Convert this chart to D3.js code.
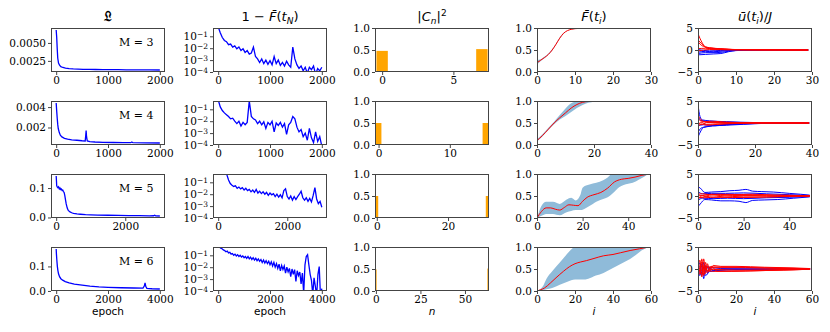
<!DOCTYPE html>
<html>
<head>
<meta charset="utf-8">
<script src="https://cdn.jsdelivr.net/npm/d3@7"></script>
<style>
  body { margin: 0; background: #fff; }
  .tick line { stroke: #444; }
  .title { font-family: "DejaVu Sans", sans-serif; font-size: 13px; }
</style>
</head>
<body>
<div id="chart"></div>
<script>
// Section 1: data
// ======================================================

var Ms = [3, 4, 5, 6];
var epochMax = [2000, 2000, 3000, 4000];
var epochTicks = [[0, 1000, 2000], [0, 1000, 2000], [0, 2000], [0, 2000, 4000]];
var lossTicks = [[0.0025, 0.005], [0.002, 0.004], [0, 0.1], [0, 0.1]];
var lossTickLabels = [["0.0025", "0.0050"], ["0.002", "0.004"], ["0.0", "0.1"], ["0.0", "0.1"]];

// cost vs epoch, [epoch, value]
var lossM3 = [[0, 0.0068], [10, 0.0058], [20, 0.0042], [30, 0.0029], [45, 0.0022], [65, 0.0019],
  [90, 0.0017], [130, 0.00158], [180, 0.00148], [250, 0.00142], [330, 0.00138], [420, 0.00135],
  [520, 0.00133], [640, 0.00131], [760, 0.0013], [900, 0.00129], [1050, 0.00128], [1200, 0.00127],
  [1350, 0.00126], [1500, 0.00125], [1650, 0.00125], [1800, 0.00124], [2000, 0.00123]];
var lossM4 = [[0, 0.0044], [10, 0.0036], [20, 0.0029], [30, 0.0023], [40, 0.0019], [60, 0.0015],
  [80, 0.00125], [110, 0.00108], [160, 0.00094], [220, 0.00085], [300, 0.00079], [400, 0.00075],
  [500, 0.0007], [560, 0.00068], [570, 0.0012], [578, 0.0017], [586, 0.0011], [600, 0.00068],
  [650, 0.00062], [750, 0.00058], [900, 0.00055], [1100, 0.00053], [1300, 0.00052], [1440, 0.00051],
  [1460, 0.00058], [1480, 0.00051], [1700, 0.0005], [2000, 0.00048]];
var lossM5 = [[0, 0.141], [8, 0.125], [15, 0.108], [30, 0.104], [50, 0.101], [70, 0.104], [90, 0.097],
  [110, 0.1], [130, 0.095], [150, 0.097], [170, 0.092], [190, 0.093], [210, 0.088], [230, 0.085],
  [250, 0.074], [270, 0.06], [290, 0.046], [320, 0.032], [350, 0.024], [400, 0.019], [450, 0.016],
  [500, 0.014], [600, 0.012], [700, 0.011], [850, 0.0095], [1000, 0.0088], [1200, 0.0082],
  [1500, 0.0075], [1800, 0.007], [2100, 0.0065], [2400, 0.006], [2700, 0.0055], [2820, 0.0058],
  [2850, 0.0075], [2880, 0.0055], [3000, 0.005]];
var lossM6 = [[0, 0.171], [10, 0.15], [25, 0.126], [45, 0.1], [65, 0.084], [90, 0.07], [130, 0.058],
  [180, 0.05], [250, 0.044], [350, 0.038], [500, 0.033], [700, 0.028], [1000, 0.024], [1300, 0.02],
  [1650, 0.017], [2000, 0.015], [2500, 0.013], [3000, 0.012], [3350, 0.0115], [3400, 0.02],
  [3430, 0.033], [3460, 0.018], [3500, 0.0105], [3700, 0.009], [4000, 0.008]];
var lossCurves = [lossM3, lossM4, lossM5, lossM6];

// log10 of 1 - F(t_N), one value every infidStep epochs
var infidStep = [40, 40, 50, 50];
var infidExpM3 = [-0.2, -0.7, -1.1, -1.35, -1.45, -1.7, -1.65, -1.9, -1.8, -2.05,
  -1.9, -2.2, -2.05, -2.35, -2.2, -2.5, -2.4, -1.9, -2.7, -2.9,
  -3.2, -2.9, -3.3, -3.0, -3.35, -3.05, -3.4, -2.7, -3.3, -3.0,
  -3.45, -3.2, -3.5, -3.1, -3.4, -3.6, -1.9, -2.9, -3.4, -3.7,
  -3.5, -3.9, -3.6, -4.1, -3.6, -3.8, -3.5, -4.2, -3.7, -3.9, -3.6];
var infidExpM4 = [-0.2, -0.8, -1.1, -1.3, -1.45, -1.6, -1.8, -1.75, -2.0, -2.2,
  -2.0, -2.4, -2.1, -2.3, -2.1, -0.3, -1.6, -1.8, -1.9, -2.2,
  -2.0, -2.3, -2.05, -2.6, -2.1, -2.3, -2.0, -2.9, -2.15, -2.35,
  -2.1, -2.5, -2.2, -3.1, -2.3, -2.1, -1.6, -1.8, -2.5, -2.9,
  -2.7, -3.3, -3.0, -3.6, -2.6, -3.4, -3.8, -2.9, -3.7, -3.3, -4.1];
var infidExpM5 = [-0.1, -0.1, -0.15, -0.2, -0.25, -0.35, -0.8, -1.1, -1.25, -1.35,
  -1.3, -1.5, -1.4, -1.55, -1.45, -1.65, -1.5, -1.7, -1.6, -1.8,
  -1.65, -1.85, -1.6, -1.9, -1.75, -1.95, -1.8, -2.0, -1.85, -2.1,
  -1.9, -2.05, -1.95, -2.2, -2.0, -2.25, -2.05, -2.3, -1.7, -1.55,
  -2.2, -2.4, -2.15, -2.5, -2.2, -2.45, -2.2, -2.0, -1.75, -2.3,
  -2.5, -2.3, -2.6, -2.35, -2.65, -2.1, -1.45, -2.4, -2.8, -2.6, -3.1];
var infidExpM6 = [-0.2, -0.3, -0.4, -0.45, -0.55, -0.6, -0.7, -0.65, -0.8, -0.75,
  -0.9, -0.85, -1.0, -0.9, -1.05, -0.95, -1.1, -1.0, -1.15, -1.05,
  -1.2, -1.1, -1.25, -1.1, -1.3, -1.15, -1.35, -1.2, -1.4, -1.25,
  -1.45, -1.3, -1.5, -1.35, -1.6, -1.4, -1.65, -1.45, -1.7, -1.5,
  -1.8, -1.55, -1.9, -1.6, -2.0, -1.7, -2.1, -1.75, -2.3, -1.85,
  -2.2, -1.9, -2.5, -2.0, -2.4, -2.1, -2.8, -2.15, -2.6, -2.2,
  -3.2, -2.3, -2.7, -2.4, -3.4, -2.5, -4.2, -1.8, -1.1, -0.95,
  -1.8, -2.6, -3.1, -4.3, -2.9, -3.6, -4.4, -2.6, -1.95, -4.5, -3.8];
var infidCurves = [infidExpM3, infidExpM4, infidExpM5, infidExpM6];
var infidTicks = [1e-1, 1e-2, 1e-3, 1e-4];

// |C_n|^2, [n, value]
var popN = [8, 16, 32, 64];
var popBars = [[[0, 0.48], [7, 0.52]], [[0, 0.5], [15, 0.5]], [[0, 0.5], [31, 0.5]], [[0, 0.49], [63, 0.51]]];
var popTicks = [[0, 5], [0, 10], [0, 20], [0, 25, 50]];

// mean fidelity and band, time steps
var timeMax = [30, 40, 50, 60];
var timeTicks = [[0, 10, 20, 30], [0, 20, 40], [0, 20, 40], [0, 20, 40, 60]];
var fidMean = [
  [[0, 0.21], [1, 0.27], [2, 0.33], [3, 0.4], [4, 0.5], [5, 0.63], [6, 0.77], [7, 0.88], [8, 0.94],
   [9, 0.97], [10, 0.985], [13, 0.996], [18, 1.0], [29, 1.0]],
  [[0, 0.1], [2, 0.22], [4, 0.36], [6, 0.5], [8, 0.62], [10, 0.73], [12, 0.84], [14, 0.92], [16, 0.97],
   [18, 0.99], [21, 1.0], [39, 1.0]],
  [[0, 0], [2, 0.15], [4, 0.23], [6, 0.23], [8, 0.2], [10, 0.18], [12, 0.24], [14, 0.3], [16, 0.29],
   [18, 0.28], [20, 0.38], [22, 0.47], [25, 0.53], [28, 0.58], [31, 0.68], [34, 0.82], [37, 0.88],
   [40, 0.9], [43, 0.93], [46, 0.97], [49, 1.0]],
  [[0, 0], [2, 0.03], [4, 0.07], [7, 0.18], [10, 0.3], [14, 0.45], [17, 0.55], [20, 0.62], [23, 0.66],
   [26, 0.69], [30, 0.74], [35, 0.8], [40, 0.83], [44, 0.87], [49, 0.92], [54, 0.96], [59, 1.0]]
];
// [t, low, high]
var fidBand = [
  [[0, 0.17, 0.27], [1, 0.25, 0.29], [2, 0.31, 0.35], [3, 0.39, 0.42], [4, 0.49, 0.52], [5, 0.62, 0.65],
   [6, 0.76, 0.79], [7, 0.87, 0.89], [8, 0.935, 0.945], [10, 0.98, 0.99], [13, 0.995, 0.999], [29, 1, 1]],
  [[0, 0.08, 0.13], [2, 0.2, 0.25], [4, 0.34, 0.39], [6, 0.47, 0.53], [8, 0.58, 0.68], [10, 0.66, 0.83],
   [12, 0.75, 0.95], [14, 0.84, 0.99], [16, 0.91, 1.0], [18, 0.96, 1.0], [21, 0.99, 1.0], [25, 1, 1], [39, 1, 1]],
  [[0, 0, 0], [2, 0.05, 0.28], [4, 0.09, 0.37], [7, 0.09, 0.37], [10, 0.06, 0.32], [13, 0.13, 0.42],
   [15, 0.16, 0.46], [17, 0.18, 0.4], [19, 0.18, 0.52], [20, 0.19, 0.69], [23, 0.27, 0.76], [26, 0.37, 0.8],
   [29, 0.43, 0.86], [31, 0.47, 0.92], [33, 0.55, 1.02], [36, 0.7, 1.08], [40, 0.78, 1.1], [42, 0.8, 1.08],
   [45, 0.88, 1.05], [47, 0.94, 1.02], [49, 1, 1]],
  [[0, 0, 0], [3, 0.02, 0.1], [5, 0.04, 0.28], [8, 0.07, 0.45], [12, 0.14, 0.65], [16, 0.21, 0.85],
   [20, 0.26, 1.02], [24, 0.26, 1.1], [27, 0.28, 1.1], [31, 0.35, 1.1], [35, 0.41, 1.1], [39, 0.5, 1.1],
   [42, 0.57, 1.1], [46, 0.66, 1.1], [49, 0.73, 1.08], [52, 0.82, 1.05], [55, 0.92, 1.02], [59, 1, 1]]
];

// control fields u/J, [t, value]
var ctrlBlue = [
  [[[0, -1.1], [2, -1.0], [4, -0.9], [6, -0.8], [8, -0.4], [10, -0.1], [14, 0], [29, 0]],
   [[0, -0.8], [2, -0.6], [5, -0.6], [8, -0.3], [12, -0.05], [29, 0]],
   [[0, -0.5], [2, -0.3], [4, -0.4], [7, -0.2], [11, 0], [29, 0]],
   [[0, 0.1], [3, -0.2], [6, -0.1], [10, 0], [29, 0]]],
  [[[0, 4.2], [0.7, 1.5], [1.5, 0.7], [4, 0.5], [10, 0.3], [20, 0.1], [39, 0]],
   [[0, -3.2], [1, -1.8], [2, -1.0], [5, -0.7], [10, -0.5], [16, -0.3], [24, -0.05], [39, 0]],
   [[0, -2.2], [1, -1.2], [3, -0.8], [8, -0.4], [15, -0.2], [39, 0]],
   [[0, 1.5], [1, 0.6], [4, 0.3], [12, 0.15], [20, 0.05], [39, 0]],
   [[0, -0.6], [2, -0.4], [6, -0.6], [12, -0.3], [20, -0.1], [39, 0]]],
  [[[0, 2.1], [1, 1.8], [3, 0.8], [6, 0.9], [10, 1.0], [14, 1.2], [18, 1.3], [21, 1.5], [24, 1.1],
    [28, 1.0], [33, 0.9], [40, 0.6], [45, 0.4], [49, 0.2]],
   [[0, -2.4], [1, -1.8], [3, -0.8], [6, -0.9], [10, -1.1], [14, -1.1], [18, -1.2], [21, -1.5],
    [24, -1.0], [29, -0.9], [35, -0.8], [42, -0.5], [49, -0.2]],
   [[0, 1.0], [2, 0.5], [6, 0.6], [12, 0.6], [20, 0.7], [30, 0.5], [40, 0.3], [49, 0.1]],
   [[0, -1.0], [2, -0.5], [7, -0.6], [13, -0.5], [20, -0.6], [30, -0.4], [40, -0.3], [49, -0.1]]],
  [[[0, 0], [1, -1.5], [2, 1.2], [3, -2.2], [4, 0.8], [5, -1.0], [6, 0.3], [8, -0.4], [12, -0.2], [20, -0.1], [59, 0]],
   [[0, 0.5], [1, 1.4], [2, -1.0], [3, 1.5], [4, -0.6], [5, 0.7], [7, -0.5], [10, -0.3], [20, -0.1], [59, 0]],
   [[0, -0.3], [1, -0.8], [2, -1.3], [3, 0.4], [4, -1.5], [6, -0.6], [9, -0.4], [15, -0.2], [59, 0]],
   [[0, 0.3], [2, 0.6], [4, 0.2], [7, 0.3], [12, 0.1], [59, 0]]]
];
var ctrlRed = [
  [[[0, 3.7], [1, 1.8], [2, 0.6], [3, 0.3], [5, 0.15], [10, 0.05], [29, 0]],
   [[0, 2.3], [1, 1.4], [2, 0.7], [4, 0.4], [7, 0.2], [12, 0.05], [29, 0]],
   [[0, 1.9], [1, 1.0], [3, 0.5], [6, 0.3], [10, 0.1], [29, 0]],
   [[0, 0.3], [2, 0.4], [5, 0.3], [9, 0.1], [29, 0]],
   [[0, -0.2], [3, 0.1], [8, 0.05], [29, 0]]],
  [[[0, 0.9], [1, 0.5], [2, 0.3], [5, 0.4], [10, 0.2], [20, 0.05], [39, 0]],
   [[0, -0.5], [1, 0.2], [3, -0.3], [6, -0.2], [12, -0.1], [20, 0], [39, 0]],
   [[0, 0.3], [1, -0.4], [3, 0.1], [8, 0.15], [15, 0.05], [39, 0]],
   [[0, -1.0], [1, -0.2], [3, -0.5], [7, -0.3], [14, -0.1], [22, 0], [39, 0]],
   [[0, 1.8], [1, 0.8], [3, 0.2], [8, 0.1], [39, 0]]],
  [[[0, -0.5], [2, -0.3], [5, 0.2], [10, 0.4], [20, 0.3], [30, 0.2], [40, 0.15], [49, 0.05]],
   [[0, 0.4], [2, 0.5], [5, 0.3], [10, 0.1], [20, -0.2], [30, -0.2], [40, -0.1], [49, 0]],
   [[0, -0.3], [3, -0.4], [8, -0.2], [15, 0.1], [25, 0.1], [35, 0], [49, 0]],
   [[0, 0.2], [3, 0], [7, -0.3], [15, -0.35], [25, -0.3], [35, -0.15], [49, -0.05]],
   [[0, -0.6], [2, 0.1], [6, 0.4], [14, 0.3], [24, 0.4], [34, 0.2], [49, 0.1]]],
  [[[0, 0], [1, 2.0], [2, -1.8], [3, 2.3], [4, -1.0], [5, 1.2], [6, -0.5], [8, 0.8], [12, 0.6], [20, 0.6],
    [35, 0.4], [50, 0.25], [59, 0.1]],
   [[0, 0.5], [1, -1.2], [2, 2.3], [3, -1.3], [4, 1.5], [5, -0.8], [7, 0.6], [10, -0.5], [20, -0.5],
    [35, -0.35], [50, -0.2], [59, -0.05]],
   [[0, -0.5], [1, 1.0], [2, 0.5], [3, -1.5], [4, 0.6], [6, 0.2], [9, 0.3], [20, 0.3], [40, 0.15], [59, 0]],
   [[0, 0.2], [1, -0.5], [2, -1.2], [3, 0.8], [5, -0.3], [8, -0.1], [20, -0.25], [40, -0.15], [59, 0]],
   [[0, -0.8], [1, 0.4], [2, 1.6], [3, -0.6], [4, 0.2], [6, 0.5], [10, 0.45], [25, 0.35], [45, 0.2], [59, 0.05]],
   [[0, 0.9], [1, -0.6], [3, 0.2], [5, -0.4], [10, -0.55], [25, -0.45], [45, -0.25], [59, -0.05]]]
];

// Section 2: canvas and layout
// ======================================================

var width = 830;
var height = 332;
var colX = [51, 213, 375, 537, 698];
var rowY = [28, 101, 174, 247];
var pw = 114;
var ph = 44;
var frameColor = "#444";
var tickFont = "DejaVu Serif";

var svg = d3.select("#chart")
  .append("svg")
  .attr("width", width)
  .attr("height", height);

function makePanel(r, c) {
  var g = svg.append("g")
    .attr("transform", "translate(" + colX[c] + "," + rowY[r] + ")");
  svg.append("clipPath")
    .attr("id", "clip-" + r + "-" + c)
    .append("rect")
    .attr("width", pw)
    .attr("height", ph);
  var plot = g.append("g").attr("clip-path", "url(#clip-" + r + "-" + c + ")");
  return { g: g, plot: plot };
}

function drawAxes(p, x, y, xTicks, yTicks, xFmt, yFmt) {
  var xa = p.g.append("g")
    .attr("transform", "translate(0," + ph + ")")
    .call(d3.axisBottom(x).tickValues(xTicks).tickFormat(xFmt).tickSize(3).tickPadding(2));
  var ya = p.g.append("g")
    .call(d3.axisLeft(y).tickValues(yTicks).tickFormat(yFmt).tickSize(3).tickPadding(2));
  [xa, ya].forEach(function(a) {
    a.select(".domain").remove();
    a.attr("font-family", tickFont).attr("font-size", 10.5);
    a.selectAll(".tick text").attr("fill", "#000");
  });
  p.g.append("rect")
    .attr("x", 0.5).attr("y", 0.5)
    .attr("width", pw - 1).attr("height", ph - 1)
    .attr("fill", "none")
    .attr("stroke", frameColor)
    .attr("stroke-width", 1);
  return { xa: xa, ya: ya };
}

function minusFmt(d) {
  return d < 0 ? "\u2212" + Math.abs(d) : String(d);
}

function padExtent(lo, hi) {
  var pad = (hi - lo) * 0.05;
  return [lo - pad, hi + pad];
}

// Section 3: the four rows
// ======================================================

for (var r = 0; r < 4; r++) {

  // column 1: cost
  var p1 = makePanel(r, 0);
  var lx = d3.scaleLinear().domain(padExtent(0, epochMax[r])).range([0, pw]);
  var lExt = d3.extent(lossCurves[r], function(d) { return d[1]; });
  var ly = d3.scaleLinear().domain(padExtent(lExt[0], lExt[1])).range([ph, 0]);
  p1.plot.append("path")
    .datum(lossCurves[r])
    .attr("fill", "none")
    .attr("stroke", "#0000ff")
    .attr("stroke-width", 1.3)
    .attr("d", d3.line().x(function(d) { return lx(d[0]); }).y(function(d) { return ly(d[1]); }));
  var labs = lossTickLabels[r];
  drawAxes(p1, lx, ly, epochTicks[r], lossTicks[r], d3.format("d"), function(d, i) { return labs[i]; });
  p1.g.append("text")
    .attr("x", 68).attr("y", 18)
    .attr("font-family", tickFont)
    .attr("font-size", 11)
    .text("M = " + Ms[r]);

  // column 2: infidelity, log scale
  var p2 = makePanel(r, 1);
  var ix = d3.scaleLinear().domain(padExtent(0, epochMax[r])).range([0, pw]);
  var iy = d3.scaleLog().domain([1e-4, 0.5]).range([ph, 0]);
  var step = infidStep[r];
  p2.plot.append("path")
    .datum(infidCurves[r])
    .attr("fill", "none")
    .attr("stroke", "#0000ff")
    .attr("stroke-width", 1.3)
    .attr("d", d3.line()
      .x(function(d, i) { return ix(i * step); })
      .y(function(d) { return iy(Math.pow(10, d)); }));
  var ax2 = drawAxes(p2, ix, iy, epochTicks[r], infidTicks, d3.format("d"), function() { return ""; });
  ax2.ya.selectAll(".tick text").each(function(d) {
    var t = d3.select(this);
    t.append("tspan").text("10");
    t.append("tspan")
      .attr("dy", "-0.45em")
      .attr("font-size", 7.5)
      .text("\u2212" + Math.round(-Math.log10(d)));
  });

  // column 3: |C_n|^2 bars
  var p3 = makePanel(r, 2);
  var bx = d3.scaleLinear().domain([-0.5, popN[r] - 0.5]).range([0, pw]);
  var by = d3.scaleLinear().domain([0, 1]).range([ph, 0]);
  p3.plot.selectAll("rect")
    .data(popBars[r])
    .enter()
    .append("rect")
    .attr("x", function(d) { return bx(d[0] - 0.4); })
    .attr("width", function(d) { return bx(d[0] + 0.4) - bx(d[0] - 0.4); })
    .attr("y", function(d) { return by(d[1]); })
    .attr("height", function(d) { return by(0) - by(d[1]); })
    .attr("fill", "#ffa500");
  drawAxes(p3, bx, by, popTicks[r], [0, 0.5, 1], d3.format("d"), d3.format(".1f"));

  // column 4: mean fidelity with spread
  var p4 = makePanel(r, 3);
  var fx = d3.scaleLinear().domain([0, timeMax[r]]).range([0, pw]);
  var fy = d3.scaleLinear().domain([0, 1]).range([ph, 0]);
  p4.plot.append("path")
    .datum(fidBand[r])
    .attr("fill", "#8fbbd9")
    .attr("d", d3.area()
      .curve(d3.curveMonotoneX)
      .x(function(d) { return fx(d[0]); })
      .y0(function(d) { return fy(d[1]); })
      .y1(function(d) { return fy(d[2]); }));
  p4.plot.append("path")
    .datum(fidMean[r])
    .attr("fill", "none")
    .attr("stroke", "#ff0000")
    .attr("stroke-width", 1)
    .attr("d", d3.line()
      .curve(d3.curveMonotoneX)
      .x(function(d) { return fx(d[0]); })
      .y(function(d) { return fy(d[1]); }));
  drawAxes(p4, fx, fy, timeTicks[r], [0, 0.5, 1], d3.format("d"), d3.format(".1f"));

  // column 5: control fields
  var p5 = makePanel(r, 4);
  var ux = d3.scaleLinear().domain([0, timeMax[r]]).range([0, pw]);
  var uy = d3.scaleLinear().domain([-5, 5]).range([ph, 0]);
  var uLine = d3.line()
    .curve(d3.curveMonotoneX)
    .x(function(d) { return ux(d[0]); })
    .y(function(d) { return uy(d[1]); });
  p5.plot.selectAll(".ub")
    .data(ctrlBlue[r])
    .enter()
    .append("path")
    .attr("class", "ub")
    .attr("fill", "none")
    .attr("stroke", "#0000ff")
    .attr("stroke-width", 1)
    .attr("d", uLine);
  p5.plot.selectAll(".ur")
    .data(ctrlRed[r])
    .enter()
    .append("path")
    .attr("class", "ur")
    .attr("fill", "none")
    .attr("stroke", "#ff0000")
    .attr("stroke-width", 1)
    .attr("d", uLine);
  drawAxes(p5, ux, uy, timeTicks[r], [-5, 0, 5], d3.format("d"), minusFmt);
}

// Section 4: column titles and x labels
// ======================================================

function title(c) {
  return svg.append("text")
    .attr("class", "title")
    .attr("x", colX[c] + pw / 2)
    .attr("y", 21)
    .attr("text-anchor", "middle");
}

title(0).attr("font-size", 16).attr("font-weight", "bold").text("\uD835\uDD0F");

var t2 = title(1);
t2.append("tspan").text("1 \u2212 ");
t2.append("tspan").attr("font-style", "italic").text("F\u0304");
t2.append("tspan").text("(");
t2.append("tspan").attr("font-style", "italic").text("t");
t2.append("tspan").attr("font-style", "italic").attr("font-size", 9).attr("dy", 3).text("N");
t2.append("tspan").attr("dy", -3).text(")");

var t3 = title(2);
t3.append("tspan").text("|");
t3.append("tspan").attr("font-style", "italic").text("C");
t3.append("tspan").attr("font-style", "italic").attr("font-size", 9).attr("dy", 3).text("n");
t3.append("tspan").attr("dy", -3).text("|");
t3.append("tspan").attr("font-size", 9).attr("dy", -5).text("2");

var t4 = title(3);
t4.append("tspan").attr("font-style", "italic").text("F\u0304");
t4.append("tspan").text("(");
t4.append("tspan").attr("font-style", "italic").text("t");
t4.append("tspan").attr("font-style", "italic").attr("font-size", 9).attr("dy", 3).text("i");
t4.append("tspan").attr("dy", -3).text(")");

var t5 = title(4);
t5.append("tspan").attr("font-style", "italic").text("\u016B");
t5.append("tspan").text("(");
t5.append("tspan").attr("font-style", "italic").text("t");
t5.append("tspan").attr("font-style", "italic").attr("font-size", 9).attr("dy", 3).text("i");
t5.append("tspan").attr("dy", -3).text(")/");
t5.append("tspan").attr("font-style", "italic").text("J");

var xLabels = ["epoch", "epoch", "n", "i", "i"];
xLabels.forEach(function(lab, c) {
  svg.append("text")
    .attr("x", colX[c] + pw / 2)
    .attr("y", 315)
    .attr("text-anchor", "middle")
    .attr("font-family", "DejaVu Sans")
    .attr("font-size", 10.5)
    .attr("font-style", c >= 2 ? "italic" : "normal")
    .text(lab);
});
</script>
</body>
</html>
